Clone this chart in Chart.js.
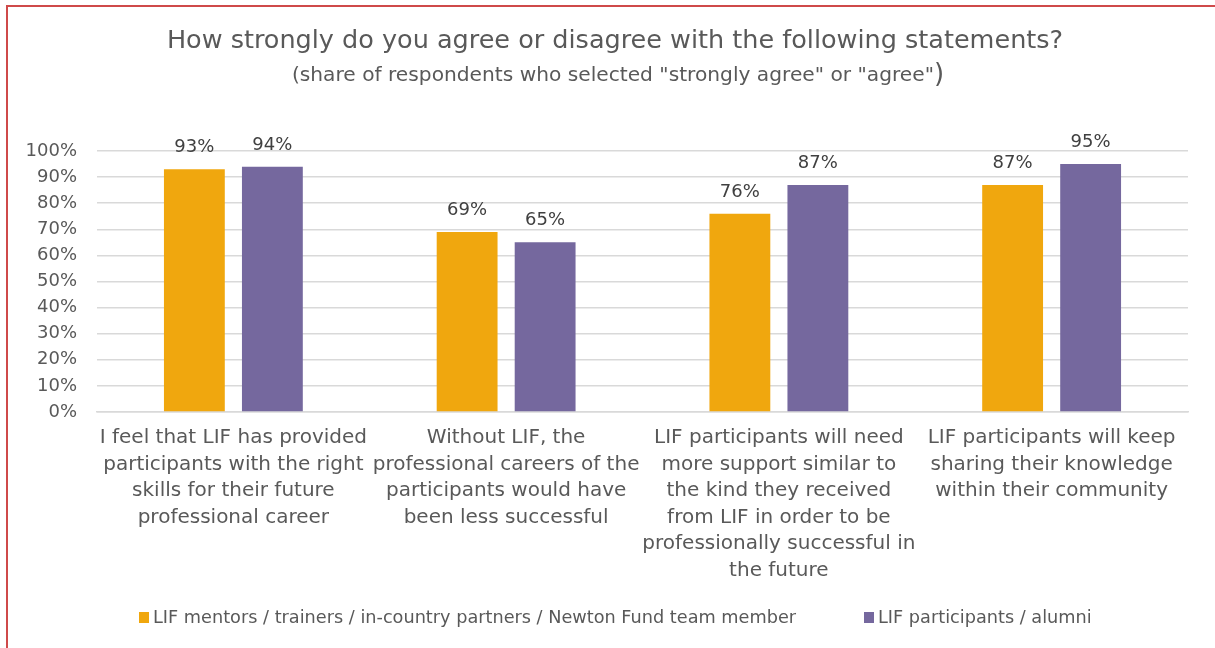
<!DOCTYPE html>
<html>
<head>
<meta charset="utf-8">
<script src="https://cdn.jsdelivr.net/npm/chart.js@4/dist/chart.umd.min.js"></script>
<style>
  html, body { margin: 0; padding: 0; background: #fff; overflow: hidden; }
  #frame { position: absolute; left: 6px; top: 5px; width: 1300px; height: 700px; border: 2px solid #cf4a4a; box-sizing: border-box; }
  #wrap { position: absolute; left: 0; top: 0; width: 1215px; height: 648px; }
</style>
</head>
<body>
<div id="frame"></div>
<div id="wrap"><canvas id="c" width="1215" height="648"></canvas></div>
<script>
// Survey statements (multi-line category labels)
const categories = [
  ["I feel that LIF has provided", "participants with the right", "skills for their future", "professional career"],
  ["Without LIF, the", "professional careers of the", "participants would have", "been less successful"],
  ["LIF participants will need", "more support similar to", "the kind they received", "from LIF in order to be", "professionally successful in", "the future"],
  ["LIF participants will keep", "sharing their knowledge", "within their community"]
];
const seriesNames = [
  "LIF mentors / trainers / in-country partners / Newton Fund team member",
  "LIF participants / alumni"
];
const mentorsValues = [93, 69, 76, 87];
const participantsValues = [94, 65, 87, 95];
const yTicks = [0, 10, 20, 30, 40, 50, 60, 70, 80, 90, 100];

const titleText = "How strongly do you agree or disagree with the following statements?";
const subtitleText = "(share of respondents who selected \"strongly agree\" or \"agree\"";

const FONT = "'DejaVu Sans', sans-serif";
const TEXT = "#595959";
const COLORS = ["#f0a70e", "#75689e"];

// Title, subtitle, value labels and legend drawn on the canvas
const decorations = {
  id: "decorations",
  afterDatasetsDraw(chart) {
    const ctx = chart.ctx;
    ctx.save();
    ctx.fillStyle = TEXT;
    ctx.textBaseline = "middle";

    // Title
    ctx.font = "25.5px " + FONT;
    ctx.textAlign = "center";
    ctx.fillText(titleText, 615, 41);

    // Subtitle with larger closing parenthesis
    ctx.font = "20.2px " + FONT;
    const w1 = ctx.measureText(subtitleText).width;
    ctx.font = "26px " + FONT;
    const w2 = ctx.measureText(")").width;
    const sx = 618 - (w1 + w2) / 2;
    ctx.textAlign = "left";
    ctx.font = "20.2px " + FONT;
    ctx.fillText(subtitleText, sx, 76);
    ctx.font = "26px " + FONT;
    ctx.fillText(")", sx + w1, 75);

    // Value labels above each bar
    ctx.font = "18px " + FONT;
    ctx.textAlign = "center";
    ctx.textBaseline = "alphabetic";
    ctx.fillStyle = "#404040";
    chart.data.datasets.forEach((ds, i) => {
      chart.getDatasetMeta(i).data.forEach((bar, j) => {
        ctx.fillText(ds.data[j] + "%", bar.x, bar.y - 17);
      });
    });

    // Legend
    ctx.font = "17.7px " + FONT;
    ctx.textAlign = "left";
    ctx.textBaseline = "middle";
    const items = [{ x: 139, i: 0 }, { x: 864, i: 1 }];
    items.forEach(it => {
      ctx.fillStyle = COLORS[it.i];
      ctx.fillRect(it.x, 612, 10, 11);
      ctx.fillStyle = TEXT;
      ctx.fillText(seriesNames[it.i], it.x + 14, 618);
    });
    ctx.restore();
  }
};

new Chart(document.getElementById("c"), {
  type: "bar",
  data: {
    labels: categories,
    datasets: [
      { label: seriesNames[0], data: mentorsValues, backgroundColor: COLORS[0] },
      { label: seriesNames[1], data: participantsValues, backgroundColor: COLORS[1] }
    ]
  },
  options: {
    responsive: false,
    animation: false,
    devicePixelRatio: 1,
    layout: { padding: { top: 151, right: 27, bottom: 0, left: 0 } },
    datasets: { bar: { categoryPercentage: 0.572, barPercentage: 0.78 } },
    plugins: { legend: { display: false }, title: { display: false }, tooltip: { enabled: false } },
    scales: {
      x: {
        grid: { display: false, drawTicks: false },
        border: { color: "#d9d9d9", width: 1.5 },
        ticks: { color: TEXT, font: { family: FONT, size: 20, lineHeight: 1.325 }, maxRotation: 0, autoSkip: false, padding: 13 },
        afterFit(scale) { scale.height = 648 - 151 - 261; }
      },
      y: {
        min: 0, max: 100,
        afterBuildTicks(scale) { scale.ticks = yTicks.map(v => ({ value: v })); },
        grid: { color: "#d9d9d9", lineWidth: 1.5, drawTicks: false },
        border: { display: false },
        ticks: { color: TEXT, font: { family: FONT, size: 18 }, padding: 20, callback: v => v + "%" },
        afterFit(scale) { scale.width = 97; }
      }
    }
  },
  plugins: [decorations]
});
</script>
</body>
</html>
